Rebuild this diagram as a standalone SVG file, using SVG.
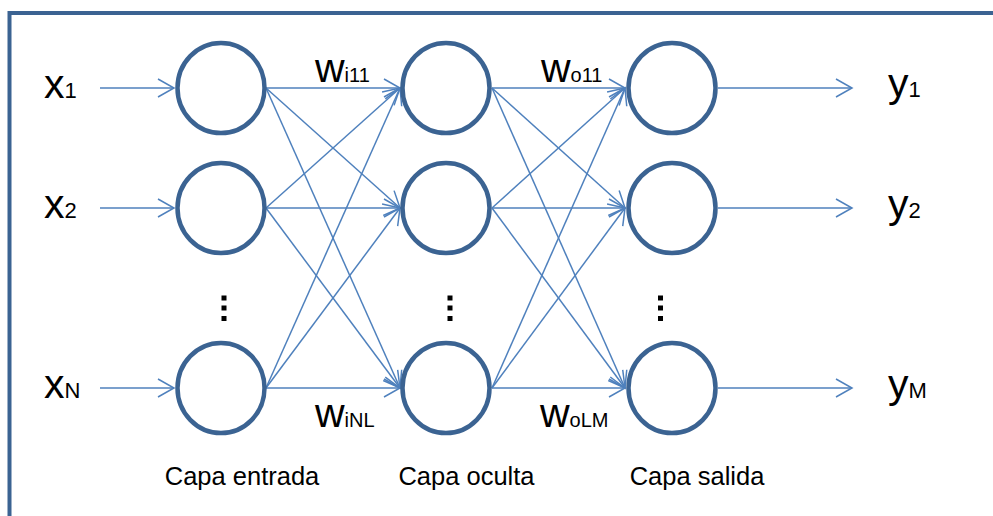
<svg xmlns="http://www.w3.org/2000/svg" width="993" height="516" viewBox="0 0 993 516">
<style>
.node{fill:#ffffff;stroke:#3b6392;stroke-width:4.5}
.conn line{stroke:#4f81bd;stroke-width:1.5;fill:none;marker-end:url(#arr)}
.lbl{font-family:"Liberation Sans",Arial,sans-serif;fill:#000000}
.big{font-size:41px}
.sub{font-size:22px}
.wsub{font-size:20px}
.cap{font-family:"Liberation Sans",Arial,sans-serif;font-size:25.5px;fill:#000000;text-anchor:middle}
.dot{fill:#000000}
</style>
<defs>
<marker id="arr" markerUnits="userSpaceOnUse" markerWidth="20" markerHeight="22" refX="17" refY="10" orient="auto" viewBox="0 0 20 20" overflow="visible">
<path d="M1,1 L17,10 L1,19" fill="none" stroke="#4f81bd" stroke-width="1.5"/>
</marker>
</defs>
<rect x="9.5" y="13" width="1000" height="520" fill="#ffffff" stroke="#3b6392" stroke-width="4"/>
<g id="connectors" class="conn">
<line x1="100" y1="88" x2="174" y2="88"/>
<line x1="100" y1="208" x2="174" y2="208"/>
<line x1="100" y1="388" x2="174" y2="388"/>
<line x1="266" y1="88" x2="400" y2="88"/>
<line x1="266" y1="88" x2="400" y2="208"/>
<line x1="266" y1="88" x2="400" y2="388"/>
<line x1="266" y1="208" x2="400" y2="88"/>
<line x1="266" y1="208" x2="400" y2="208"/>
<line x1="266" y1="208" x2="400" y2="388"/>
<line x1="266" y1="388" x2="400" y2="88"/>
<line x1="266" y1="388" x2="400" y2="208"/>
<line x1="266" y1="388" x2="400" y2="388"/>
<line x1="492" y1="88" x2="625" y2="88"/>
<line x1="492" y1="88" x2="625" y2="208"/>
<line x1="492" y1="88" x2="625" y2="388"/>
<line x1="492" y1="208" x2="625" y2="88"/>
<line x1="492" y1="208" x2="625" y2="208"/>
<line x1="492" y1="208" x2="625" y2="388"/>
<line x1="492" y1="388" x2="625" y2="88"/>
<line x1="492" y1="388" x2="625" y2="208"/>
<line x1="492" y1="388" x2="625" y2="388"/>
<line x1="718" y1="88" x2="852" y2="88"/>
<line x1="718" y1="208" x2="852" y2="208"/>
<line x1="718" y1="388" x2="852" y2="388"/>
</g>
<g id="in1"><ellipse class="node" cx="221" cy="88" rx="43.5" ry="45"/></g>
<g id="in2"><ellipse class="node" cx="221" cy="208" rx="43.5" ry="45"/></g>
<g id="inN"><ellipse class="node" cx="221" cy="388" rx="43.5" ry="45"/></g>
<g id="hid1"><ellipse class="node" cx="446" cy="88" rx="43.5" ry="45"/></g>
<g id="hid2"><ellipse class="node" cx="446" cy="208" rx="43.5" ry="45"/></g>
<g id="hidL"><ellipse class="node" cx="446" cy="388" rx="43.5" ry="45"/></g>
<g id="out1"><ellipse class="node" cx="672" cy="88" rx="43.5" ry="45"/></g>
<g id="out2"><ellipse class="node" cx="672" cy="208" rx="43.5" ry="45"/></g>
<g id="outM"><ellipse class="node" cx="672" cy="388" rx="43.5" ry="45"/></g>
<g id="dots">
<rect class="dot" x="221.5" y="295.5" width="5" height="5"/>
<rect class="dot" x="221.5" y="305.5" width="5" height="5"/>
<rect class="dot" x="221.5" y="316" width="5" height="5"/>
<rect class="dot" x="447.5" y="295.5" width="5" height="5"/>
<rect class="dot" x="447.5" y="305.5" width="5" height="5"/>
<rect class="dot" x="447.5" y="316" width="5" height="5"/>
<rect class="dot" x="658" y="295.5" width="5" height="5"/>
<rect class="dot" x="658" y="305.5" width="5" height="5"/>
<rect class="dot" x="658" y="316" width="5" height="5"/>
</g>
<g id="labels">
<text class="lbl big" x="44" y="98">x<tspan class="sub">1</tspan></text>
<text class="lbl big" x="44" y="218">x<tspan class="sub">2</tspan></text>
<text class="lbl big" x="44" y="398">x<tspan class="sub">N</tspan></text>
<text class="lbl big" x="888" y="97">y<tspan class="sub">1</tspan></text>
<text class="lbl big" x="888" y="218">y<tspan class="sub">2</tspan></text>
<text class="lbl big" x="888" y="398">y<tspan class="sub">M</tspan></text>
<text class="lbl big" x="315" y="82">w<tspan class="wsub">i11</tspan></text>
<text class="lbl big" x="541" y="82">w<tspan class="wsub">o11</tspan></text>
<text class="lbl big" x="315" y="427">w<tspan class="wsub">iNL</tspan></text>
<text class="lbl big" x="540" y="427">w<tspan class="wsub">oLM</tspan></text>
<text class="cap" x="242" y="485">Capa entrada</text>
<text class="cap" x="466.5" y="485">Capa oculta</text>
<text class="cap" x="697" y="485">Capa salida</text>
</g>
</svg>
